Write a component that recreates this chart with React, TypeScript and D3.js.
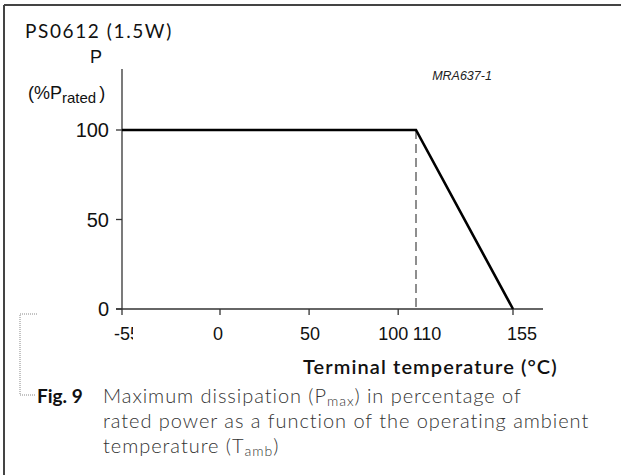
import React from "react";
import * as d3 from "d3";

const temps = [-55, 110, 155];
const power = [100, 100, 0];
const xTicks = [-55, 0, 50, 100, 110, 155];
const yTicks = [0, 50, 100];
const kneeTemp = 110;
const title = "PS0612 (1.5W)";
const xTitle = "Terminal temperature (°C)";
const code = "MRA637-1";

const W = 621;
const H = 475;

export default function App() {
  // The original drawing compresses the segment 110..155, hence a polylinear scale
  const x = d3.scaleLinear().domain([-55, 110, 155, 169]).range([122, 416, 513, 543]);
  const y = d3.scaleLinear().domain([0, 100, 134]).range([309, 130, 69]);

  const pts: [number, number][] = temps.map((t, i) => [t, power[i]]);
  const line = d3
    .line<[number, number]>()
    .x((d) => x(d[0]))
    .y((d) => y(d[1]));

  const labelShift: Record<number, number> = { [-55]: 5, 0: -2, 50: 1, 100: -5, 110: 11, 155: 9 };
  const tickFont = "'Liberation Sans', Arial, sans-serif";
  const gill = "Lato, 'Open Sans', sans-serif";

  return (
    <svg
      width={W}
      height={H}
      style={{ position: "absolute", left: 0, top: 0, background: "#fff" }}
    >
      <defs>
        <clipPath id="clipLeftLabel">
          <rect x={0} y={300} width={133} height={60} />
        </clipPath>
      </defs>
      {/* frame (top and left only) */}
      <line x1={4} y1={5} x2={W} y2={5} stroke="#444" strokeWidth={2} />
      <line x1={4} y1={5} x2={4} y2={H} stroke="#444" strokeWidth={2} />

      {/* title */}
      <text x={25} y={38} fontFamily={gill} fontSize={19} letterSpacing={1.6} fill="#111">
        {title}
      </text>

      {/* y axis label */}
      <text x={96} y={63} fontFamily={tickFont} fontSize={18} textAnchor="middle" fill="#111">
        P
      </text>
      <text x={28} y={99} fontFamily={tickFont} fontSize={18} fill="#111">
        (%P
        <tspan fontSize={15} dy={4}>rated</tspan>
        <tspan dy={-4} dx={3}>)</tspan>
      </text>

      <text x={462} y={80} fontFamily={tickFont} fontSize={12.5} fontStyle="italic" textAnchor="middle" fill="#222">
        {code}
      </text>

      {/* axes */}
      <line x1={x(-55)} y1={y(134)} x2={x(-55)} y2={y(0)} stroke="#333" strokeWidth={1.3} />
      <line x1={x(-55) - 6} y1={y(0)} x2={x(169)} y2={y(0)} stroke="#333" strokeWidth={1.3} />
      {yTicks.map((v) => (
        <g key={"y" + v}>
          <line x1={x(-55) - 6} x2={x(-55)} y1={y(v)} y2={y(v)} stroke="#333" strokeWidth={1.3} />
          <text x={109} y={y(v)} dy="0.36em" textAnchor="end" fontFamily={tickFont} fontSize={20} fill="#111">
            {v}
          </text>
        </g>
      ))}
      {xTicks.map((v) => (
        <g key={"x" + v}>
          {v !== kneeTemp && (
            <line x1={x(v)} x2={x(v)} y1={y(0)} y2={y(0) + 6} stroke="#333" strokeWidth={1.3} />
          )}
          <text
            x={x(v) + (labelShift[v] || 0)}
            y={340}
            textAnchor="middle"
            fontFamily={tickFont}
            fontSize={18}
            fill="#111"
            clipPath={v === -55 ? "url(#clipLeftLabel)" : undefined}
          >
            {v}
          </text>
        </g>
      ))}

      {/* dashed knee line */}
      <line
        x1={x(kneeTemp)}
        x2={x(kneeTemp)}
        y1={y(100)}
        y2={y(0)}
        stroke="#444"
        strokeWidth={1.2}
        strokeDasharray="9,5"
      />

      {/* derating curve */}
      <path d={line(pts) || ""} fill="none" stroke="#000" strokeWidth={2.6} strokeLinejoin="miter" />

      {/* x axis title */}
      <text x={303} y={374} fontFamily={gill} fontSize={20} fontWeight={600} letterSpacing={1.1} fill="#111">
        {xTitle}
      </text>

      {/* bracket */}
      <path d="M37,314 H20 V395 H36" fill="none" stroke="#888" strokeWidth={1} strokeDasharray="1,1" />

      {/* caption */}
      <text x={37} y={403} fontFamily={gill} fontSize={19} fontWeight={700} fill="#111">
        Fig. 9
      </text>
      <g fontFamily={gill} fontSize={20} fontWeight={300} letterSpacing={0.95} fill="#333">
        <text x={103} y={403}>
          Maximum dissipation (P<tspan fontSize={14} dy={3}>max</tspan>
          <tspan dy={-3}>) in percentage of</tspan>
        </text>
        <text x={103} y={428}>rated power as a function of the operating ambient</text>
        <text x={103} y={453}>
          temperature (T<tspan fontSize={14} dy={3}>amb</tspan>
          <tspan dy={-3}>)</tspan>
        </text>
      </g>
    </svg>
  );
}
